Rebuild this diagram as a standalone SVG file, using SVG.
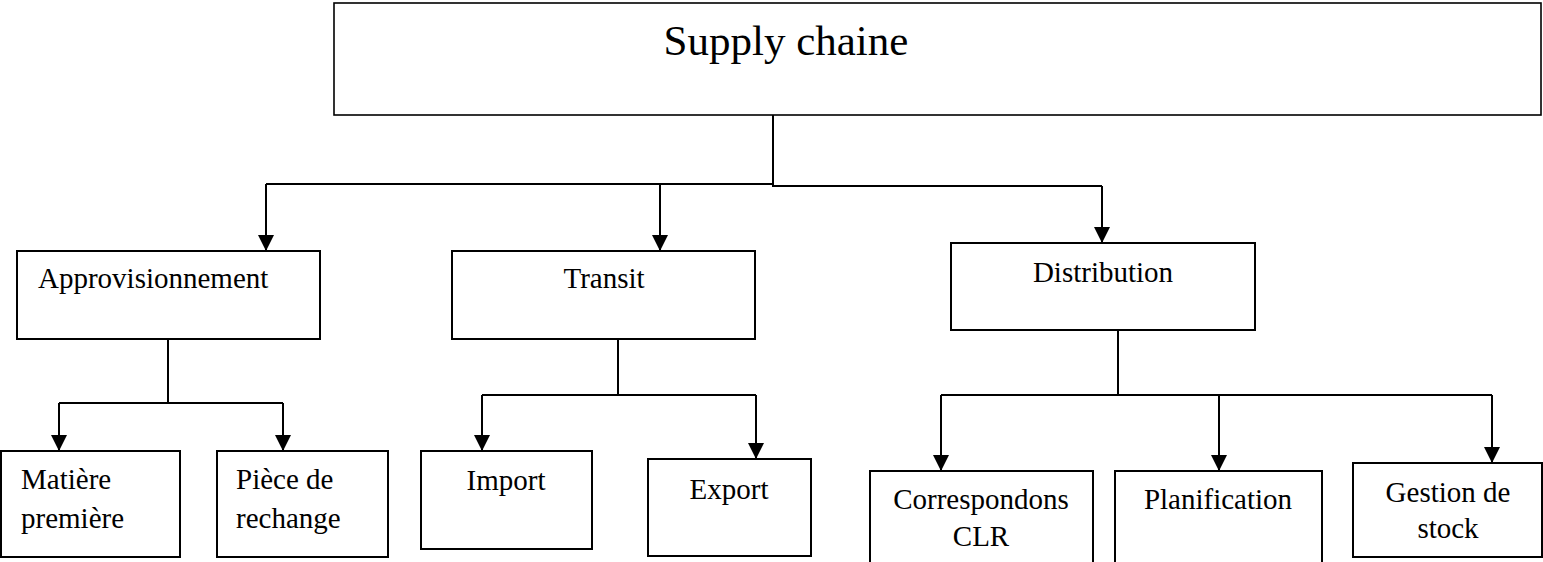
<svg xmlns="http://www.w3.org/2000/svg" width="1543" height="562" viewBox="0 0 1543 562">
  <defs>
    <marker id="arrow" markerUnits="userSpaceOnUse" markerWidth="16" markerHeight="18" viewBox="0 0 16 18" refX="16" refY="8" orient="auto">
      <path d="M0,0 L16,8 L0,16 Z" fill="#000"/>
    </marker>
    <style>
      rect.box { fill: #fff; stroke: #000; stroke-width: 2; }
      .lbl { font-family: "Liberation Serif", "Times New Roman", serif; font-size: 29px; fill: #000; }
      .title { font-family: "Liberation Serif", "Times New Roman", serif; font-size: 43px; fill: #000; }
      .conn { fill: none; stroke: #000; stroke-width: 2; }
      .arr { marker-end: url(#arrow); }
    </style>
  </defs>
  <rect width="1543" height="562" fill="#fff"/>

  <g id="connectors">
    <!-- root to first level -->
    <path class="conn" d="M773,115 V186"/>
    <path class="conn" d="M266,184 H773"/>
    <path class="conn" d="M772,186 H1102"/>
    <path class="conn arr" d="M266,184 V251"/>
    <path class="conn arr" d="M660,184 V251"/>
    <path class="conn arr" d="M1102,186 V243"/>
    <!-- Approvisionnement -->
    <path class="conn" d="M168,339 V403"/>
    <path class="conn" d="M59,403 H283"/>
    <path class="conn arr" d="M59,403 V451"/>
    <path class="conn arr" d="M283,403 V451"/>
    <!-- Transit -->
    <path class="conn" d="M618,339 V395"/>
    <path class="conn" d="M482,395 H756"/>
    <path class="conn arr" d="M482,395 V451"/>
    <path class="conn arr" d="M756,395 V459"/>
    <!-- Distribution -->
    <path class="conn" d="M1118,330 V395"/>
    <path class="conn" d="M941,395 H1492"/>
    <path class="conn arr" d="M941,395 V471"/>
    <path class="conn arr" d="M1219,395 V471"/>
    <path class="conn arr" d="M1492,395 V463"/>
  </g>

  <g id="supply-chaine">
    <rect class="box" x="334" y="3" width="1207" height="112" style="stroke-width:1.6"/>
    <text class="title" x="786" y="55" text-anchor="middle">Supply chaine</text>
  </g>

  <g id="approvisionnement">
    <rect class="box" x="17" y="251" width="303" height="88"/>
    <text class="lbl" x="38" y="288">Approvisionnement</text>
  </g>
  <g id="transit">
    <rect class="box" x="452" y="251" width="303" height="88"/>
    <text class="lbl" x="604" y="288" text-anchor="middle">Transit</text>
  </g>
  <g id="distribution">
    <rect class="box" x="951" y="243" width="304" height="87"/>
    <text class="lbl" x="1103" y="282" text-anchor="middle">Distribution</text>
  </g>

  <g id="matiere-premiere">
    <rect class="box" x="1" y="451" width="179" height="106"/>
    <text class="lbl" x="21" y="489">Matière</text>
    <text class="lbl" x="21" y="528">première</text>
  </g>
  <g id="piece-de-rechange">
    <rect class="box" x="217" y="451" width="171" height="106"/>
    <text class="lbl" x="236" y="489">Pièce de</text>
    <text class="lbl" x="236" y="528">rechange</text>
  </g>
  <g id="import">
    <rect class="box" x="421" y="451" width="171" height="98"/>
    <text class="lbl" x="506" y="490" text-anchor="middle">Import</text>
  </g>
  <g id="export">
    <rect class="box" x="648" y="459" width="163" height="97"/>
    <text class="lbl" x="729" y="499" text-anchor="middle">Export</text>
  </g>
  <g id="correspondons-clr">
    <rect class="box" x="870" y="471" width="223" height="100"/>
    <text class="lbl" x="981" y="509" text-anchor="middle">Correspondons</text>
    <text class="lbl" x="981" y="546" text-anchor="middle">CLR</text>
  </g>
  <g id="planification">
    <rect class="box" x="1115" y="471" width="207" height="100"/>
    <text class="lbl" x="1218" y="509" text-anchor="middle">Planification</text>
  </g>
  <g id="gestion-de-stock">
    <rect class="box" x="1353" y="463" width="189" height="94"/>
    <text class="lbl" x="1448" y="502" text-anchor="middle">Gestion de</text>
    <text class="lbl" x="1448" y="538" text-anchor="middle">stock</text>
  </g>
</svg>
